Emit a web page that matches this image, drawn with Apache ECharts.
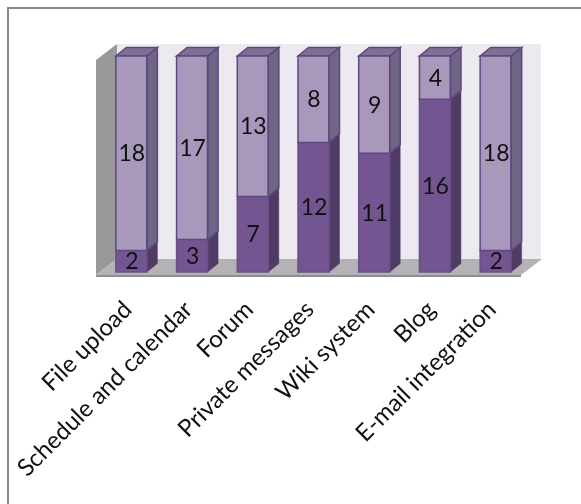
<!DOCTYPE html>
<html><head><meta charset="utf-8">
<style>html,body{margin:0;padding:0;background:#fff}#c{width:581px;height:504px}</style>
<script src="https://cdn.jsdelivr.net/npm/echarts@6/dist/echarts.min.js"></script>
</head><body><div id="c"></div>
<script>
const categories = ['File upload','Schedule and calendar','Forum','Private messages','Wiki system','Blog','E-mail integration'];
const darkValues = [2,3,7,12,11,16,2];
const lightValues = [18,17,13,8,9,4,18];
const yMax = 20;

const chart = echarts.init(document.getElementById('c'), null, {renderer:'canvas'});
const DX = 10.5, DY = 8.5, BAR = 31;
const palette = {
  dark:{front:'#735691',side:'#4F3B66',top:'#64507C',stroke:'#6A4F89'},
  light:{front:'#A898BC',side:'#6F6585',top:'#7F7093',stroke:'#5F4880'}
};
function poly(points, fill, stroke, lw){
  return {type:'polygon',shape:{points},style:{fill,stroke:stroke||null,lineWidth:lw||0}};
}
function renderSeg(kind){
  return function(params, api){
    const i = api.value(0), a = api.value(1), b = api.value(2);
    const p0 = api.coord([i,a]), p1 = api.coord([i,b]);
    const xl = p0[0]-BAR/2, xr = p0[0]+BAR/2, yb = p0[1], yt = p1[1];
    const c = palette[kind], kids = [];
    kids.push(poly([[xr,yb],[xr+DX,yb-DY],[xr+DX,yt-DY],[xr,yt]], c.side, c.side, .5));
    if (b === yMax) kids.push(poly([[xl,yt],[xl+DX,yt-DY],[xr+DX,yt-DY],[xr,yt]], c.top, c.stroke, 1.5));
    kids.push({type:'rect',shape:{x:xl,y:yt,width:BAR,height:yb-yt},style:{fill:c.front,stroke:c.stroke,lineWidth:1.5}});
    if (b === yMax) kids.push(poly([[xr,yb],[xr+DX,yb-DY],[xr+DX,yt-DY],[xr,yt]], 'transparent', c.stroke, 1.5));
    kids.push({type:'text',style:{text:String(b-a),x:p0[0]+0.5,y:(yb+yt)/2+0.5,align:'center',verticalAlign:'middle',
      font:'23px Lato, Carlito, sans-serif',fill:'#111111'}});
    return {type:'group',children:kids};
  };
}
const darkData = darkValues.map((v,i)=>[i,0,v]);
const lightData = lightValues.map((v,i)=>[i,darkValues[i],darkValues[i]+v]);

chart.setOption({
  animation:false,
  backgroundColor:'#fff',
  grid:{left:101,top:56,width:425,height:216,containLabel:false},
  xAxis:{type:'category',data:categories,axisLine:{show:false},axisTick:{show:false},splitLine:{show:false},
    axisLabel:{rotate:45,interval:0,margin:30,padding:[0,5,0,0],fontFamily:'Lato, Carlito, sans-serif',fontSize:24,color:'#111111'}},
  yAxis:{type:'value',min:0,max:yMax,interval:5,show:false},
  graphic:[
    {type:'rect',z:-1,shape:{x:7,y:7,width:574,height:2},style:{fill:'#888888'}},
    {type:'rect',z:-1,shape:{x:7,y:7,width:2,height:497},style:{fill:'#888888'}},
    {type:'polygon',z:-1,shape:{points:[[117,44],[541,44],[541,259],[117,259]]},style:{fill:'#ECE9F1'}},
    {type:'polygon',z:-1,shape:{points:[[96,60],[117,44],[117,259],[96,275]]},style:{fill:'#999999'}},
    {type:'polygon',z:-1,shape:{points:[[96,275],[117,259],[542,259],[521,275]]},style:{fill:'#B4B2B5'}},
    {type:'rect',z:-1,shape:{x:96,y:275,width:425,height:2},style:{fill:'#8F8F8F'}}
  ],
  series:[
    {type:'custom',name:'dark',coordinateSystem:'cartesian2d',data:darkData,encode:{x:0,y:[1,2]},renderItem:renderSeg('dark')},
    {type:'custom',name:'light',coordinateSystem:'cartesian2d',data:lightData,encode:{x:0,y:[1,2]},renderItem:renderSeg('light')}
  ]
});
</script></body></html>
